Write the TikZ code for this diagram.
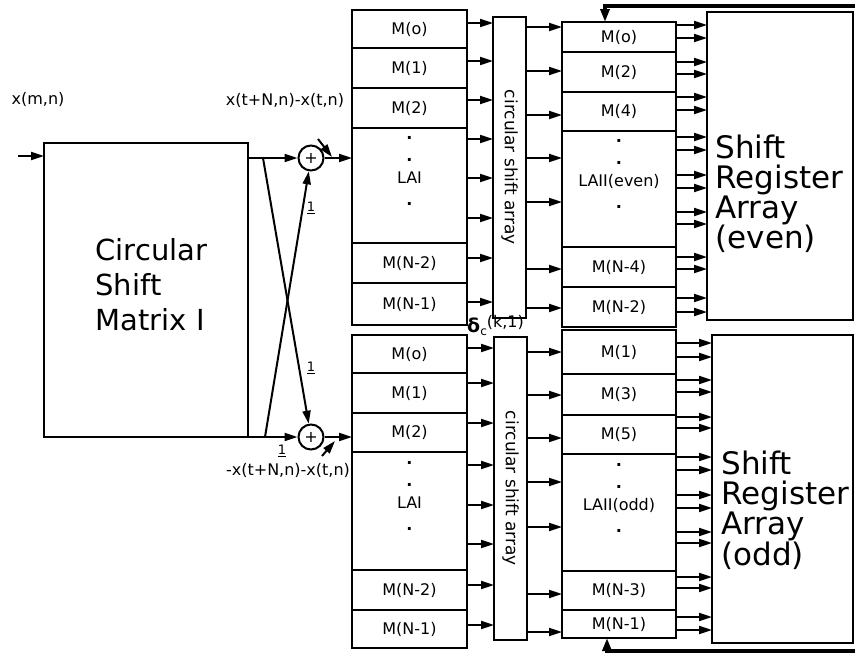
\documentclass[tikz,border=0pt]{standalone}
\usepackage{fontspec}
\setmainfont{DejaVu Sans}
\usetikzlibrary{arrows.meta,positioning}
\newcommand\cellfont{\fontsize{16}{22}\selectfont}
\newcommand\lblfont{\fontsize{16}{18}\selectfont}
\newcommand\csafont{\fontsize{17}{19}\selectfont}
\newcommand\bigfont{\fontsize{29}{35}\selectfont}
\newcommand\srafont{\fontsize{31}{30}\selectfont}
\newcommand\vd{\textbf{.}}
\tikzset{
  cell/.style={draw,rectangle,line width=2pt,minimum width=115,inner sep=0pt,outer sep=0pt,font=\cellfont},
  lii/.style={cell,minimum width=114},
  blk/.style={draw,rectangle,line width=2pt,inner sep=0pt,outer sep=0pt},
  csablk/.style={blk,minimum width=33},
  adder/.style={circle,draw,line width=2pt,minimum size=25,inner sep=0pt,font=\lblfont},
  arr/.style={-{Triangle[length=13pt,width=8pt]},line width=2pt},
  fat/.style={-{Triangle[length=13pt,width=9pt]},line width=4.5pt},
  lbl/.style={font=\lblfont,inner sep=0pt},
  dots/.style={font=\cellfont,align=center,inner sep=0pt,yshift=15pt},
  gain/.style={font=\fontsize{13}{13}\selectfont,inner sep=0pt},
  csatxt/.style={rotate=-90,font=\csafont,inner sep=0pt}
}
\begin{document}
\begin{tikzpicture}[x=1pt,y=-1pt,node distance=0pt]
  \useasboundingbox (0,0) rectangle (855,656);

  % circular shift matrix and the two adders
  \node[blk,minimum width=204,minimum height=294,anchor=north west] (csm) at (44,143) {};
  \node[font=\bigfont,align=left,anchor=west] (csmtxt) at (92,285) {Circular\\Shift\\Matrix I};
  \node[lbl] (xin) at (38,99) {x(m,n)};
  \node[adder] (addT) at (311,158) {+};
  \node[adder] (addB) at (311,437) {+};
  \node[lbl] (sumT) at (285,100) {x(t+N,n)-x(t,n)};
  \node[lbl] (sumB) at (288,470) {-x(t+N,n)-x(t,n)};
  \node[gain] (g1) at (311,208) {\underline{1}};
  \node[gain] (g2) at (311,368) {\underline{1}};
  \node[gain] (g3) at (282,451) {\underline{1}};

  % LAI (upper)
  \node[cell,minimum height=38,anchor=north west] (a0) at (352,10) {M(o)};
  \node[cell,minimum height=40,below=of a0] (a1) {M(1)};
  \node[cell,minimum height=40,below=of a1] (a2) {M(2)};
  \node[cell,minimum height=115,below=of a2,label={[dots]center:{\vd\\\vd\\LAI\\\vd}}] (aL) {};
  \node[cell,minimum height=40,below=of aL] (a3) {M(N-2)};
  \node[cell,minimum height=42,below=of a3] (a4) {M(N-1)};

  % LAI (lower)
  \node[cell,minimum height=38,anchor=north west] (b0) at (352,335) {M(o)};
  \node[cell,minimum height=40,below=of b0] (b1) {M(1)};
  \node[cell,minimum height=39,below=of b1] (b2) {M(2)};
  \node[cell,minimum height=118,below=of b2,label={[dots]center:{\vd\\\vd\\LAI\\\vd}}] (bL) {};
  \node[cell,minimum height=40,below=of bL] (b3) {M(N-2)};
  \node[cell,minimum height=38,below=of b3] (b4) {M(N-1)};

  % circular shift arrays
  \node[csablk,minimum height=301,anchor=north west,label={[csatxt]center:circular shift array}] (csaT) at (493,17) {};
  \node[csablk,minimum height=303,anchor=north west,label={[csatxt]center:circular shift array}] (csaB) at (494,337) {};
  \node[lbl,anchor=west] (delta) at (467,326) {{\fontsize{19}{19}\selectfont\textbf{δ}}\raisebox{-3pt}{\fontsize{12}{12}\selectfont c}\raisebox{5pt}{(k,1)}};

  % LAII (even)
  \node[lii,minimum height=30,anchor=north west] (e0) at (562,22) {M(o)};
  \node[lii,minimum height=40,below=of e0] (e1) {M(2)};
  \node[lii,minimum height=39,below=of e1] (e2) {M(4)};
  \node[lii,minimum height=116,below=of e2,label={[dots]center:{\vd\\\vd\\LAII(even)\\\vd}}] (eL) {};
  \node[lii,minimum height=40,below=of eL] (e3) {M(N-4)};
  \node[lii,minimum height=40,below=of e3] (e4) {M(N-2)};

  % LAII (odd)
  \node[lii,minimum height=44,anchor=north west] (o0) at (562,330) {M(1)};
  \node[lii,minimum height=41,below=of o0] (o1) {M(3)};
  \node[lii,minimum height=39,below=of o1] (o2) {M(5)};
  \node[lii,minimum height=117,below=of o2,label={[dots]center:{\vd\\\vd\\LAII(odd)\\\vd}}] (oL) {};
  \node[lii,minimum height=39,below=of oL] (o3) {M(N-3)};
  \node[lii,minimum height=28,below=of o3] (o4) {M(N-1)};

  % shift register arrays
  \node[blk,minimum width=146,minimum height=308,anchor=north west] (srE) at (707,12) {};
  \node[font=\srafont,align=left,anchor=west] (srEt) at (712,194) {Shift\\Register\\Array\\(even)};
  \node[blk,minimum width=141,minimum height=308,anchor=north west] (srO) at (712,335) {};
  \node[font=\srafont,align=left,anchor=west] (srOt) at (718,510) {Shift\\Register\\Array\\(odd)};

  % connections
  \coordinate (xin0) at (18,156);
  \draw[arr] (xin0) -- (csm.west |- xin0);
  \draw[arr] (csm.east |- addT) -- (addT);
  \draw[arr] (csm.east |- addB) -- (addB);
  \coordinate (crT) at (263,158);
  \coordinate (crB) at (265,437);
  \draw[arr] (crT) -- (addB);
  \draw[arr] (crB) -- (addT);
  \draw[arr] (addT) -- (aL.west |- addT);
  \draw[arr] (addB) -- (b2.west |- addB);
  \coordinate (pT) at (318,139);
  \coordinate (qT) at (332,157);
  \draw[arr] (pT) -- (qT);
  \coordinate (pB) at (322,456);
  \coordinate (qB) at (335,441);
  \draw[arr] (pB) -- (qB);

  \foreach \y in {23,61,100,139,178,218,258,302}
    \draw[arr] (a0.east |- 0,\y) -- (csaT.west |- 0,\y);
  \foreach \y in {348,383,423,465,505,544,585,625}
    \draw[arr] (b0.east |- 0,\y) -- (csaB.west |- 0,\y);
  \foreach \y in {27,71,115,158,202,269,308}
    \draw[arr] (csaT.east |- 0,\y) -- (e0.west |- 0,\y);
  \foreach \y in {352,395,438,482,527,594,632}
    \draw[arr] (csaB.east |- 0,\y) -- (o0.west |- 0,\y);
  \foreach \y in {25,38,62,74,97,110,137,150,175,188,212,224,257,269,298,312}
    \draw[arr] (e0.east |- 0,\y) -- (srE.west |- 0,\y);
  \foreach \y in {343,357,380,392,417,428,457,470,495,508,532,543,577,588,617,630}
    \draw[arr] (o0.east |- 0,\y) -- (srO.west |- 0,\y);

  % feedback lines
  \coordinate (fatT) at (855,6);
  \coordinate (fatTk) at (605,6);
  \draw[fat] (fatT) -- (fatTk) -- (fatTk |- e0.north);
  \coordinate (fatB) at (855,651);
  \coordinate (fatBk) at (607,651);
  \draw[fat] (fatB) -- (fatBk) -- (fatBk |- o4.south);
\end{tikzpicture}
\end{document}
